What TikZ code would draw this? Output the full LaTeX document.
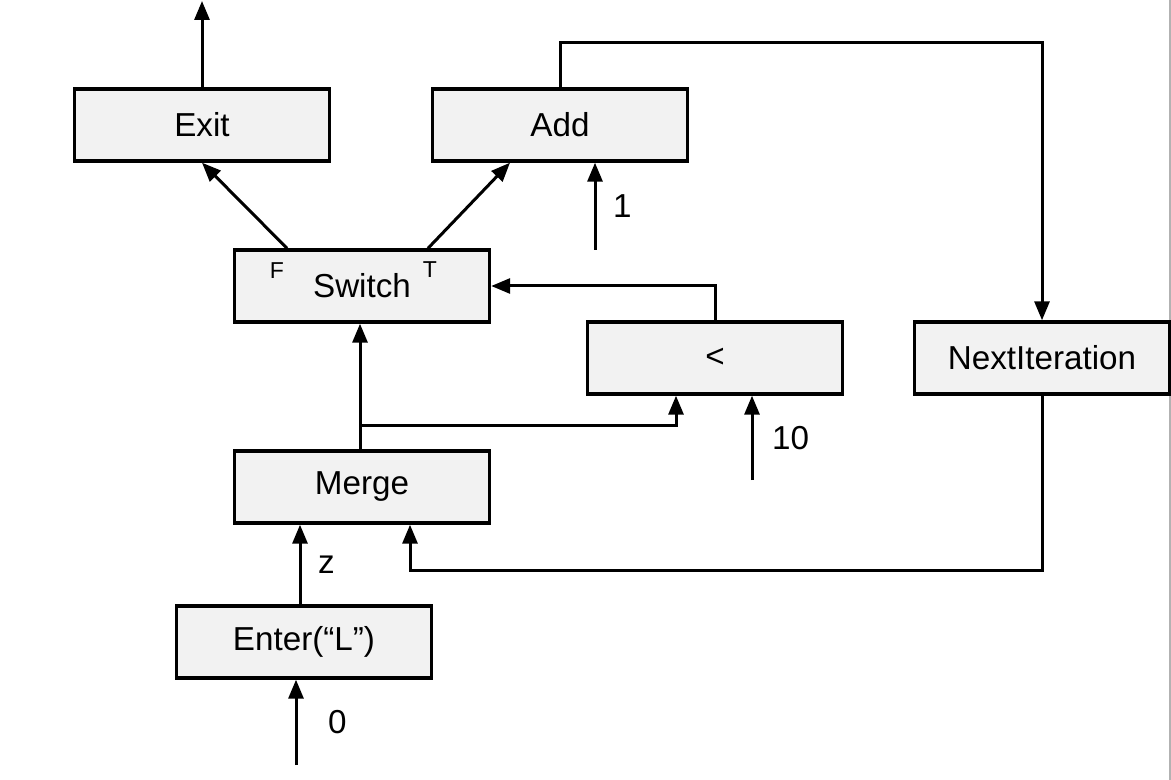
\documentclass[tikz,border=0pt]{standalone}
\usepackage{fontspec}
\setmainfont{Liberation Sans}
\usetikzlibrary{arrows.meta,positioning,calc}
\definecolor{opfill}{RGB}{242,242,242}

\begin{document}
\begin{tikzpicture}[x=0.5pt, y=-0.5pt, >={Triangle[length=9.5pt,width=7.5pt]},
  font=\fontsize{16.6}{19}\selectfont,
  opbox/.style={draw, line width=1.7pt, fill=opfill, minimum width=127.5pt, minimum height=36pt, inner sep=0pt},
  flow/.style={->, line width=1.5pt},
  port/.style={font=\fontsize{11.5}{13}\selectfont}]
  \useasboundingbox (0,0) rectangle (1171,780);
  \draw[gray!60, line width=1pt] (1170,0) -- (1170,780);
  % nodes
  \node[opbox] (exit) at (202,125) {Exit};
  \node[opbox] (add) at (560,125) {Add};
  \node[opbox] (switch) at (362,286) {Switch};
  \node[opbox] (lt) at (715,358) {<};
  \node[opbox] (next) at (1042,358) {NextIteration};
  \node[opbox] (merge) at (362,487) {Merge};
  \node[opbox] (enter) at (304,642) {Enter(“L”)};
  \node[port] (pf) at (277,271) {F};
  \node[port] (pt) at (430,270) {T};
  % free ends
  \coordinate (out) at (202,1);
  \coordinate (one) at (595,250);
  \coordinate (ten) at (752,480);
  \coordinate (zero) at (296,765);
  \coordinate (br) at (360,425);
  % edges
  \draw[flow] (exit) -- (out);
  \draw[flow] (switch.north -| 287,0) -- (exit.south);
  \draw[flow] (switch.north -| 428,0) -- (add.south -| 510,0);
  \draw[flow] (one) -- (one |- add.south) node[midway, right=5pt] {1};
  \draw[flow] (add.north) -- ++(0,-45) -| (next.north);
  \draw[flow] (lt.north) |- (switch.east);
  \draw[flow] (merge.north -| 360,0) -- (switch.south -| 360,0);
  \draw[flow] (br) -| (lt.south -| 676,0);
  \draw[flow] (ten) -- (ten |- lt.south) node[midway, right=6pt] {10};
  \draw[flow] (next.south) |- (410,570) -- (merge.south -| 410,0);
  \draw[flow] (enter.north -| 300,0) -- (merge.south -| 300,0) node[midway, right=5pt] {z};
  \draw[flow] (zero) -- (zero |- enter.south) node[midway, right=12pt] {0};
\end{tikzpicture}
\end{document}
